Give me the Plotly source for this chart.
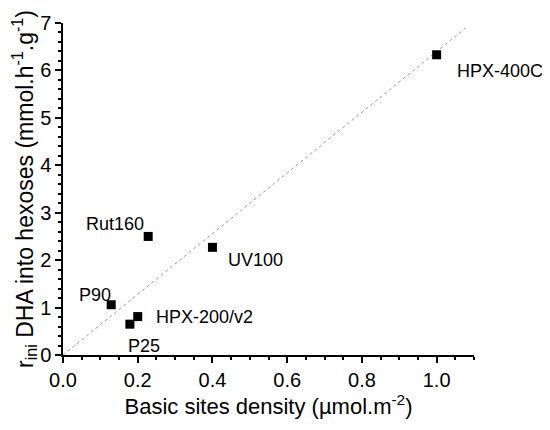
import plotly.graph_objects as go

samples = ["HPX-400C", "Rut160", "UV100", "P90", "HPX-200/v2", "P25"]
density = [1.0, 0.228, 0.40, 0.129, 0.20, 0.179]
rate = [6.33, 2.50, 2.27, 1.06, 0.81, 0.65]
label_dx = [63, -33, 43, -16, 67, 14]
label_dy = [-16, 12, -13, 10, 0, -22]
fit_x = [0.0, 1.08]
fit_y = [0.0, 6.91]

fig = go.Figure()
fig.add_trace(go.Scatter(x=fit_x, y=fit_y, mode="lines",
                         line=dict(color="#999999", width=1, dash="dot"),
                         hoverinfo="skip", showlegend=False))
fig.add_trace(go.Scatter(x=density, y=rate, mode="markers",
                         marker=dict(symbol="square", size=9, color="black"),
                         showlegend=False))
for s, x, y, dx, dy in zip(samples, density, rate, label_dx, label_dy):
    fig.add_annotation(x=x, y=y, text=s, showarrow=False, xshift=dx, yshift=dy,
                       font=dict(size=18, color="black"))

axis_common = dict(showline=True, linecolor="black", linewidth=1.5, ticks="outside",
                   ticklen=6, tickwidth=1.5, tickcolor="black", showgrid=False,
                   zeroline=False, mirror=False, automargin=False,
                   tickfont=dict(size=20, color="black"),
                   minor=dict(ticks="outside", ticklen=3, tickwidth=1.5, tickcolor="black"))
fig.update_xaxes(range=[0, 1.1], dtick=0.2, tickformat=".1f",
                 title=dict(text="Basic sites density (µmol.m<sup>-2</sup>)",
                            font=dict(size=22, color="black"), standoff=6),
                 **axis_common)
fig.update_yaxes(range=[0, 7], dtick=1,
                 title=dict(text="r<sub>ini</sub> DHA into hexoses (mmol.h<sup>-1</sup>.g<sup>-1</sup>)",
                            font=dict(size=23, color="black"), standoff=3),
                 **axis_common)
fig.update_layout(width=542, height=422, margin=dict(l=55, r=76, t=15, b=75),
                  plot_bgcolor="white", paper_bgcolor="white",
                  font=dict(family="Liberation Sans, Arial, sans-serif", color="black"))
fig.write_html("out.html")
